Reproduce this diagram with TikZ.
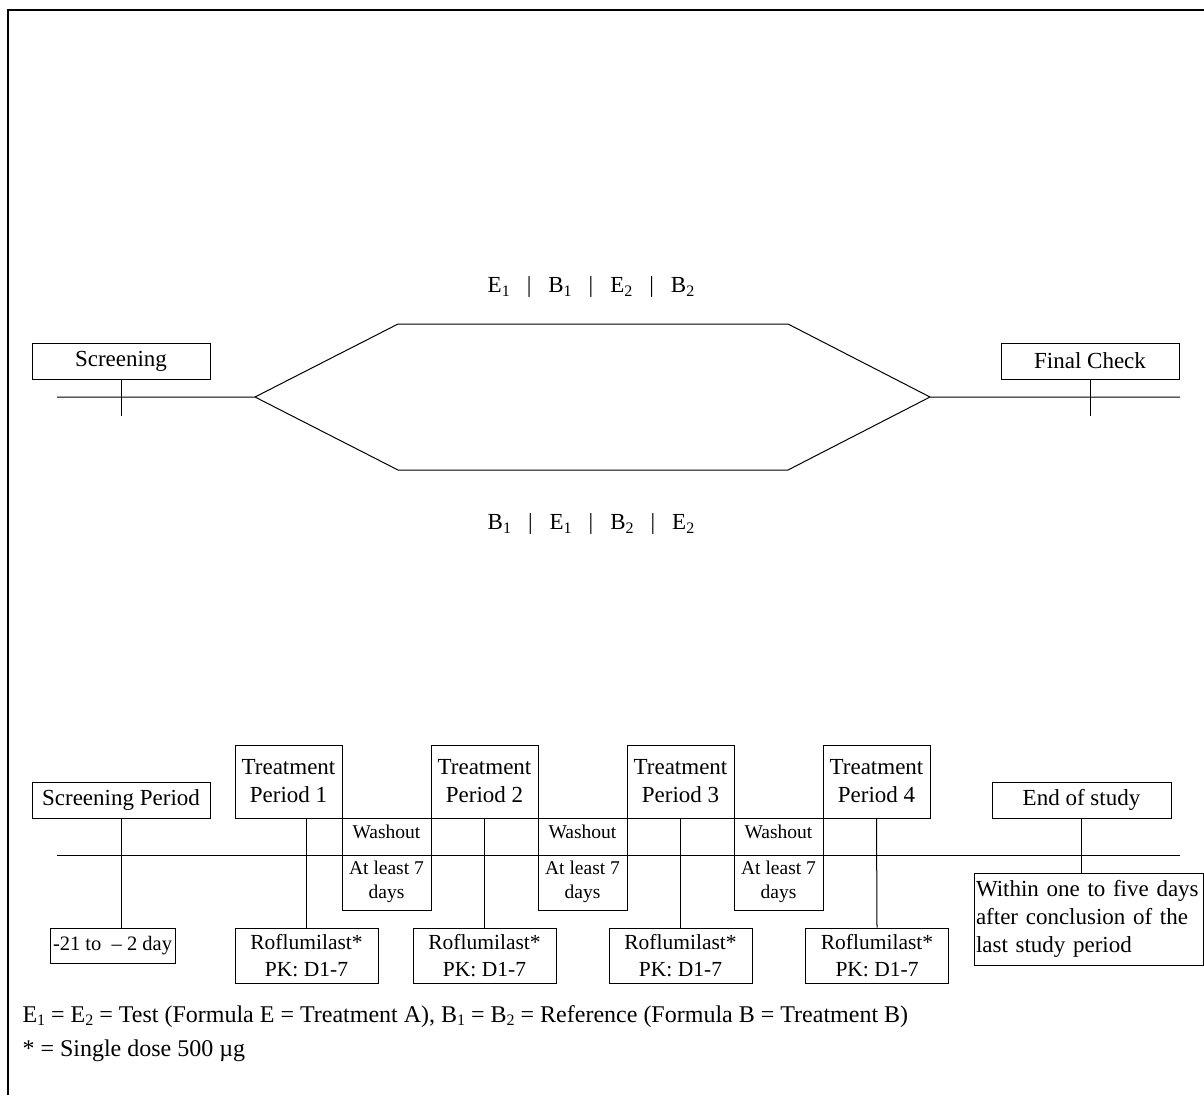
\documentclass[tikz,border=0pt]{standalone}
\usepackage{fontspec}
\setmainfont{Liberation Serif}
\usetikzlibrary{positioning,calc}
\newcommand{\lowidx}[1]{\raisebox{-.35ex}{\fontsize{16}{16}\selectfont #1}}
\newcommand{\seqbar}{\hspace{17pt}|\hspace{17pt}}

\begin{document}
\begin{tikzpicture}[x=1pt,y=-1pt,line width=1pt,
 box/.style={draw,inner sep=0pt,align=center,font=\fontsize{23}{28}\selectfont},
 tpbox/.style={box,minimum width=107,minimum height=73},
 drugbox/.style={box,minimum width=143,minimum height=55,font=\fontsize{21.5}{27}\selectfont},
 washbox/.style={draw,inner sep=0pt,minimum width=89,minimum height=92},
 washtext/.style={inner sep=0pt,align=center,font=\fontsize{19.5}{24}\selectfont},
 keytext/.style={anchor=base west,inner sep=0pt,font=\fontsize{24}{28}\selectfont}]
\useasboundingbox (0,0) rectangle (1204,1095);
\draw[line width=2pt] (8,1095) -- (8,10) -- (1204,10);

\node[box,minimum width=178,minimum height=36] (scr) at (121,361) {Screening};
\node[box,minimum width=178,minimum height=36] (fin) at (1090,361) {Final Check};
\coordinate (scrtick) at (121,416);
\coordinate (fintick) at (1090,416);
\draw (57,397) -- (255,397) -- (398,324) -- (788,324) -- (930,397) -- (1180,397);
\draw (255,397) -- (398,470) -- (788,470) -- (930,397);
\draw (scr.south) -- (scrtick);
\draw (fin.south) -- (fintick);
\node[font=\fontsize{23}{28}\selectfont] (seqa) at (591,287)
 {E\lowidx{1}\seqbar B\lowidx{1}\seqbar E\lowidx{2}\seqbar B\lowidx{2}};
\node[font=\fontsize{23}{28}\selectfont] (seqb) at (591,524)
 {B\lowidx{1}\seqbar E\lowidx{1}\seqbar B\lowidx{2}\seqbar E\lowidx{2}};

\draw (57,855) -- (1180,855);
\node[box,minimum width=178,minimum height=36] (spd) at (121,800) {Screening Period};
\node[box,minimum width=125,minimum height=35,font=\fontsize{20.5}{24}\selectfont] (d21) at (112.5,945.5) {-21 to\ \ -- 2 day};
\node[tpbox] (tp1) at (288.5,781.5) {Treatment\\Period 1};
\node[tpbox] (tp2) at (484.5,781.5) {Treatment\\Period 2};
\node[tpbox] (tp3) at (680.5,781.5) {Treatment\\Period 3};
\node[tpbox] (tp4) at (876.5,781.5) {Treatment\\Period 4};
\node[drugbox] (r1) at (306.5,955.5) {Roflumilast*\\PK: D1-7};
\node[drugbox] (r2) at (484.5,955.5) {Roflumilast*\\PK: D1-7};
\node[drugbox] (r3) at (680.5,955.5) {Roflumilast*\\PK: D1-7};
\node[drugbox] (r4) at (877,955.5) {Roflumilast*\\PK: D1-7};
\node[washbox] (w1) at (386.5,864) {};
\node[washbox] (w2) at (582.5,864) {};
\node[washbox] (w3) at (778.5,864) {};
\node[washtext] (w1a) at (386.5,832) {Washout};
\node[washtext] (w1b) at (386.5,882) {At least 7\\days};
\node[washtext] (w2a) at (582.5,832) {Washout};
\node[washtext] (w2b) at (582.5,882) {At least 7\\days};
\node[washtext] (w3a) at (778.5,832) {Washout};
\node[washtext] (w3b) at (778.5,882) {At least 7\\days};
\node[box,minimum width=179,minimum height=36] (eos) at (1081.5,800) {End of study};
\node[box,minimum width=229,minimum height=92,align=left,text width=225] (within) at (1088.5,919)
 {Within one to five days\\after conclusion of the\\last study period};
\draw (spd.south) -- (spd.south |- d21.north);
\draw (r1.north) -- (r1.north |- tp1.south);
\draw (tp2.south) -- (r2.north);
\draw (tp3.south) -- (r3.north);
\draw (tp4.south) -- (r4.north);
\draw (eos.south) -- (eos.south |- within.north);

\node[keytext] (key) at (22,1022)
 {E\lowidx{1} = E\lowidx{2} = Test (Formula E = Treatment A), B\lowidx{1} = B\lowidx{2} = Reference (Formula B = Treatment B)};
\node[keytext] (dose) at (22,1056) {* = Single dose 500 µg};
\end{tikzpicture}
\end{document}
